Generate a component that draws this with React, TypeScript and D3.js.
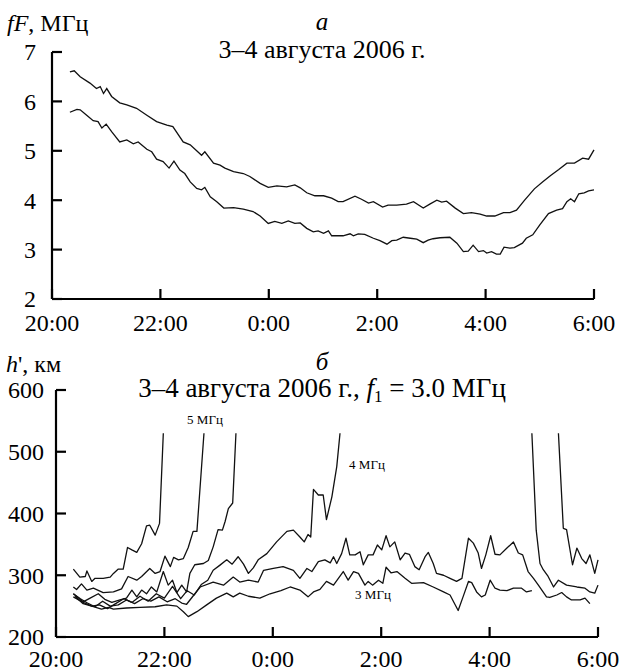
import * as d3 from "d3";

// hours after 20:00
const hourTicks = [0, 2, 4, 6, 8, 10];
const hourLabels = ["20:00", "22:00", "0:00", "2:00", "4:00", "6:00"];

// panel a: fF, MHz
const fTicks = [2, 3, 4, 5, 6, 7];
const upperT = [0.33,0.41,0.52,0.70,0.82,0.89,0.95,1.01,1.10,1.25,1.38,1.56,1.75,1.93,2.12,2.23,2.42,2.55,2.76,2.82,2.98,3.10,3.19,3.35,3.53,3.65,3.84,3.99,4.15,4.33,4.48,4.58,4.70,4.85,5.01,5.16,5.28,5.37,5.59,5.71,5.84,5.93,6.10,6.20,6.36,6.54,6.67,6.85,6.97,7.10,7.19,7.28,7.44,7.59,7.74,7.90,8.02,8.17,8.33,8.45,8.57,8.72,8.90,9.05,9.20,9.35,9.50,9.64,9.79,9.90,10.0];
const upperF = [6.60,6.62,6.50,6.37,6.26,6.30,6.16,6.26,6.10,5.97,5.93,5.86,5.72,5.59,5.52,5.49,5.18,5.12,4.91,4.98,4.75,4.71,4.65,4.58,4.54,4.48,4.34,4.26,4.29,4.27,4.31,4.25,4.15,4.09,4.09,4.04,3.97,3.97,4.08,4.02,3.94,3.97,3.86,3.90,3.90,3.92,3.97,3.84,3.92,4.00,3.96,3.98,3.84,3.73,3.75,3.72,3.68,3.68,3.75,3.75,3.80,4.00,4.23,4.37,4.50,4.62,4.75,4.75,4.85,4.83,5.02];
const lowerT = [0.33,0.46,0.52,0.64,0.76,0.85,0.92,1.00,1.10,1.25,1.38,1.50,1.59,1.75,1.84,1.93,2.05,2.16,2.25,2.36,2.45,2.55,2.67,2.76,2.82,2.92,3.04,3.17,3.35,3.53,3.71,3.84,3.99,4.11,4.24,4.36,4.48,4.58,4.70,4.82,4.91,5.01,5.10,5.16,5.37,5.50,5.56,5.65,5.77,5.93,6.05,6.18,6.27,6.36,6.48,6.61,6.73,6.85,6.94,7.03,7.16,7.34,7.47,7.59,7.68,7.77,7.87,7.96,8.02,8.11,8.20,8.27,8.34,8.45,8.53,8.68,8.75,8.87,9.00,9.16,9.31,9.42,9.50,9.57,9.64,9.72,9.82,9.90,10.0];
const lowerF = [5.78,5.84,5.83,5.72,5.61,5.59,5.46,5.54,5.39,5.18,5.22,5.14,5.18,5.03,4.98,4.83,4.78,4.65,4.79,4.61,4.54,4.37,4.24,4.21,4.26,4.07,3.97,3.84,3.85,3.82,3.77,3.68,3.53,3.57,3.53,3.58,3.53,3.54,3.43,3.36,3.38,3.33,3.38,3.28,3.28,3.32,3.28,3.32,3.31,3.23,3.18,3.11,3.18,3.19,3.25,3.23,3.21,3.14,3.19,3.22,3.24,3.25,3.13,2.96,2.97,3.09,2.96,2.98,2.93,2.96,2.91,2.91,3.05,3.03,3.04,3.13,3.23,3.30,3.50,3.73,3.80,3.83,3.97,4.03,3.97,4.13,4.15,4.19,4.21];

// panel b: h', km
const hTicks = [200, 300, 400, 500, 600];
const l1T = [0.32,0.44,0.54,0.57,0.66,0.72,0.87,1.00,1.06,1.15,1.24,1.32,1.40,1.49,1.58,1.67,1.73,1.83,1.91,1.98];
const l1H = [310,297,298,307,290,295,295,297,303,310,310,345,341,337,351,380,381,365,384,530];
const l2T = [0.32,0.38,0.47,0.57,0.69,0.87,1.06,1.21,1.33,1.49,1.58,1.73,1.83,1.92,2.01,2.11,2.17,2.26,2.35,2.44,2.53,2.60,2.73];
const l2H = [281,277,286,276,279,272,273,278,298,292,298,311,303,306,331,314,329,325,327,345,371,371,530];
const l3T = [0.32,0.50,0.63,0.78,0.90,1.03,1.18,1.30,1.40,1.49,1.58,1.67,1.76,1.86,1.98,2.07,2.15,2.23,2.32,2.41,2.47,2.56,2.72,2.81,2.90,2.99,3.07,3.12,3.18,3.26,3.32];
const l3H = [270,257,263,270,261,256,260,263,276,265,276,270,281,273,306,284,292,272,284,273,303,317,319,324,346,374,373,387,408,417,530];
const l4T = [0.32,0.50,0.66,0.80,0.95,1.10,1.25,1.40,1.55,1.70,1.85,2.00,2.15,2.30,2.42,2.55,2.68,2.80,2.90,3.02,3.15,3.25,3.36,3.46,3.55,3.64,3.73,3.89,4.07,4.26,4.38,4.50,4.58,4.65,4.70,4.75,4.84,4.93,4.99,5.09,5.18,5.24];
const l4H = [265,256,250,252,246,254,262,256,266,258,270,263,282,262,275,268,285,292,308,316,325,318,330,318,303,312,325,335,354,371,373,362,354,366,362,439,430,430,390,427,476,530];
const l3mT = [0.35,0.50,0.69,0.84,0.97,1.06,1.30,1.55,1.83,2.04,2.23,2.35,2.44,2.60,2.78,2.96,3.15,3.27,3.39,3.55,3.76,3.95,4.15,4.32,4.50,4.65,4.75,4.87,4.99,5.12,5.30,5.39,5.49,5.58,5.70,5.76,5.84,5.95,6.03,6.09,6.18,6.29,6.44,6.56,6.78,6.96,7.15,7.27,7.42,7.51,7.61,7.67,7.76,7.85,7.92,8.01,8.10,8.19,8.32,8.44,8.59,8.68,8.78];
const l3mH = [266,254,249,245,248,245,247,248,249,252,250,241,233,241,252,263,271,265,271,266,263,270,275,281,276,265,273,277,290,284,306,292,306,303,284,290,284,292,287,313,304,306,295,287,288,281,273,268,243,265,290,288,273,265,268,292,279,276,275,279,279,273,275];
const l5T = [0.32,0.45,0.58,0.72,0.86,1.00,1.15,1.30,1.45,1.60,1.75,1.90,2.05,2.20,2.32,2.41,2.66,2.90,3.09,3.27,3.39,3.55,3.73,3.83,4.01,4.19,4.38,4.50,4.63,4.72,4.84,4.96,5.06,5.12,5.18,5.27,5.35,5.42,5.52,5.61,5.67,5.76,5.85,5.93,6.01,6.09,6.16,6.25,6.35,6.44,6.52,6.62,6.70,6.81,6.87,6.96,7.02,7.15,7.27,7.39,7.49,7.61,7.70,7.79,7.85,7.93,8.02,8.10,8.19,8.32,8.44,8.53,8.61,8.71,8.81,8.90,9.05,9.11,9.24,9.33,9.42,9.51,9.67,9.76,9.85];
const l5H = [270,262,255,249,258,250,252,260,254,262,258,265,257,262,255,253,281,289,284,297,289,292,289,308,311,314,308,295,311,306,322,325,320,330,319,335,360,333,333,338,317,333,333,349,341,364,346,354,325,336,334,314,309,330,337,319,303,300,295,290,295,360,352,336,311,333,364,334,333,344,354,336,333,306,295,284,265,264,268,272,265,260,260,263,254];
const l6T = [8.78,8.86,8.93,8.99,9.08,9.18,9.27,9.42,9.61,9.76,9.85,9.94,10.0];
const l6H = [530,373,319,309,298,281,292,284,281,279,273,271,284];
const l7T = [9.27,9.36,9.42,9.53,9.61,9.70,9.78,9.85,9.94,10.0];
const l7H = [530,376,374,317,344,327,319,333,303,325];

const font = '"Liberation Serif", "Times New Roman", Tinos, "DejaVu Serif", serif';

export default function App() {
  const xa = d3.scaleLinear().domain([0, 10]).range([52, 594]);
  const ya = d3.scaleLinear().domain([2, 7]).range([299, 52]);
  const xb = d3.scaleLinear().domain([0, 10]).range([56, 598]);
  const yb = d3.scaleLinear().domain([200, 600]).range([637, 390]);

  const lineA = d3.line<[number, number]>().x((d) => xa(d[0])).y((d) => ya(d[1]));
  const lineB = d3.line<[number, number]>().x((d) => xb(d[0])).y((d) => yb(d[1]));

  const seriesA = [
    [upperT, upperF],
    [lowerT, lowerF],
  ];
  const seriesB = [
    [l1T, l1H],
    [l2T, l2H],
    [l3T, l3H],
    [l4T, l4H],
    [l3mT, l3mH],
    [l5T, l5H],
    [l6T, l6H],
    [l7T, l7H],
  ];

  const axisW = 2.2;
  const tick = 10;

  return (
    <svg
      width={632}
      height={672}
      style={{ position: "absolute", left: 0, top: 0, background: "#fff", fontFamily: font }}
    >
      {/* panel a */}
      <text x={7} y={31} fontSize={24}>
        <tspan fontStyle="italic">fF</tspan>, МГц
      </text>
      <text x={322} y={30} fontSize={25} fontStyle="italic" textAnchor="middle">а</text>
      <text x={322} y={58} fontSize={26} textAnchor="middle">3–4 августа 2006 г.</text>
      <line x1={xa(0)} x2={xa(0)} y1={ya(7)} y2={ya(2)} stroke="#000" strokeWidth={axisW} />
      <line x1={xa(0)} x2={xa(10)} y1={ya(2)} y2={ya(2)} stroke="#000" strokeWidth={axisW} />
      {fTicks.map((v) => (
        <g key={v}>
          <line x1={xa(0)} x2={xa(0) + tick} y1={ya(v)} y2={ya(v)} stroke="#000" strokeWidth={axisW} />
          <text x={36} y={ya(v)} dy="0.35em" fontSize={24} textAnchor="end">{v}</text>
        </g>
      ))}
      {hourTicks.map((h, i) => (
        <g key={h}>
          <line x1={xa(h)} x2={xa(h)} y1={ya(2)} y2={ya(2) - tick} stroke="#000" strokeWidth={axisW} />
          <text x={xa(h)} y={ya(2) + 32} fontSize={24} textAnchor="middle">{hourLabels[i]}</text>
        </g>
      ))}
      {seriesA.map(([t, v], i) => (
        <path key={i} d={lineA(d3.zip(t, v) as [number, number][]) || ""} fill="none" stroke="#111" strokeWidth={1.3} />
      ))}

      {/* panel b */}
      <text x={6} y={372} fontSize={24}>
        <tspan fontStyle="italic">h</tspan>', км
      </text>
      <text x={322} y={370} fontSize={25} fontStyle="italic" textAnchor="middle">б</text>
      <text x={322} y={397} fontSize={27} textAnchor="middle">
        3–4 августа 2006 г., <tspan fontStyle="italic">f</tspan>
        <tspan fontSize={17} dy={5}>1</tspan>
        <tspan dy={-5}> = 3.0 МГц</tspan>
      </text>
      <line x1={xb(0)} x2={xb(0)} y1={yb(600)} y2={yb(200)} stroke="#000" strokeWidth={axisW} />
      <line x1={xb(0)} x2={xb(10)} y1={yb(200)} y2={yb(200)} stroke="#000" strokeWidth={axisW} />
      {hTicks.map((v) => (
        <g key={v}>
          <line x1={xb(0)} x2={xb(0) + tick} y1={yb(v)} y2={yb(v)} stroke="#000" strokeWidth={axisW} />
          <text x={44} y={yb(v)} dy="0.35em" fontSize={24} textAnchor="end">{v}</text>
        </g>
      ))}
      {hourTicks.map((h, i) => (
        <g key={h}>
          <line x1={xb(h)} x2={xb(h)} y1={yb(200)} y2={yb(200) - tick} stroke="#000" strokeWidth={axisW} />
          <text x={xb(h)} y={yb(200) + 30} fontSize={24} textAnchor="middle">{hourLabels[i]}</text>
        </g>
      ))}
      {seriesB.map(([t, v], i) => (
        <path key={i} d={lineB(d3.zip(t, v) as [number, number][]) || ""} fill="none" stroke="#111" strokeWidth={1.3} strokeLinejoin="round" />
      ))}
      <text x={205} y={424} fontSize={13} textAnchor="middle">5 МГц</text>
      <text x={367} y={469} fontSize={13} textAnchor="middle">4 МГц</text>
      <text x={373} y={599} fontSize={13} textAnchor="middle">3 МГц</text>
    </svg>
  );
}
